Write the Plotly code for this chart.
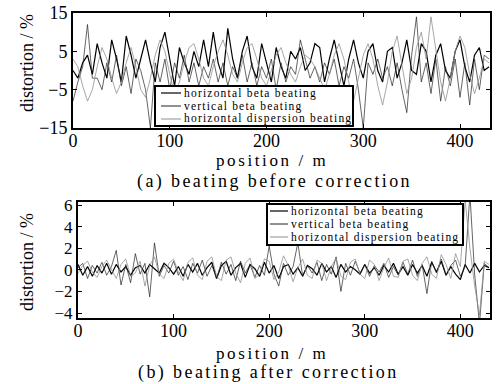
import plotly.graph_objects as go

W, H = 497, 384

# ---------------- data ----------------
position = list(range(0, 435, 5))  # m

# (a) before correction, distortion in %
hbeta_before = [0, -2, 2, 4, -1, 7, 2, -2, 8, 3, -3, 9, 4, -2, 3, 8, 2, -3, 6, 10,
                3, -4, 6, 2, -1, 5, 1, 8, 1, 10, 2, -2, 11, 3, -2, 5, 9, 1, -2, 7,
                2, -3, 6, 1, -2, 5, 3, 6, 0, 2, 7, 6, -3, 3, 8, 2, -4, 3, 8, 2,
                -2, 5, 7, 0, -3, 5, 6, -2, 2, 8, 0, -1, 7, 5, -3, 4, 7, 0, -2, 5,
                8, 1, -3, 4, 6, 0, 1]
vbeta_before = [-8, -3, 1, 12, -2, -2, -5, 2, -3, 4, -4, 1, -6, 3, 0, -5, -15, 2, -3, 3,
                -5, 2, -2, 4, -3, 2, -4, 1, -2, 3, -3, 2, -4, 1, -2, 4, -3, 2, -4, 1,
                -2, 3, -5, 2, -3, 1, -1, 8, 3, -2, 1, -3, 2, -1, 3, -4, 1, -2, 3, -5,
                -15, 2, -1, 3, -2, 1, -4, 2, -5, -11, 4, 14, -3, 2, -6, 3, -8, 1, -4, 3,
                -7, 2, -9, 3, -5, 4, 3]
hdisp_before = [3, 1, -4, -8, -5, 1, 6, 3, -2, -6, -3, 2, 6, 1, -5, -7, -2, 4, 8, 5,
                -1, -6, -3, 2, 6, 7, 3, -2, -4, 1, 5, 8, 4, -1, -3, 2, 6, 7, 3, -2,
                -4, 0, 4, 6, 2, -1, -3, 1, 4, 3, 1, -2, -5, -1, 4, 7, 3, -3, -8, -2,
                4, 7, 3, -4, -9, -3, 5, 9, 2, -6, -2, 6, 10, 3, 14, 5, -3, -8, -2, 5,
                9, 6, -1, -6, -2, 3, 2]

# (b) after correction, distortion in %
hbeta_after = [0.5, -0.5, 0.3, -0.6, 0.4, -0.3, 0.6, -0.4, 0.5, -0.2, 0.3, -0.5, 0.2, 0.4, -0.3, 0.5, 0.1, -0.3, 0.6, 0.2,
               -0.4, 0.3, -0.6, 0.5, -0.2, 0.6, -0.5, 0.2, 0.7, -0.8, 0.4, 0.8, -0.5, 0.2, 0.6, -0.7, 0.5, 0.1, -0.6, 0.7,
               -0.3, 0.4, -0.8, 0.3, 0.5, -0.4, 0.2, -0.6, 0.4, 0.1, -0.5, 0.6, -0.2, 0.3, -0.7, 0.5, -0.2, 0.3, 0.0, -0.4,
               0.5, -0.3, 0.2, -0.5, 0.4, -0.2, 0.6, -0.4, 0.3, -0.5, 0.5, -0.3, 0.4, -0.6, 0.7, -0.2, 0.8, -0.5, 0.3, -0.4,
               -0.9, 0.5, -0.3, 0.6, -0.2, 0.4, 0.2]
vbeta_after = [0.2, 0.6, -0.8, 0.4, -0.3, 0.7, -0.5, 0.3, 1.8, -1.4, 0.5, -1.2, 1.5, -0.4, 0.6, -2.5, 2.5, -0.6, 0.4, -0.3,
               0.8, -0.5, 0.3, -0.9, 0.6, -0.3, 0.9, -0.6, 0.4, -0.8, 0.7, -0.4, 0.5, -1.0, 0.8, -0.3, 0.5, -0.7, 0.4, -0.5,
               2.2, -0.4, -1.5, 0.6, -0.5, 0.3, 2.5, -0.6, 0.4, -0.3, 0.7, -1.0, 0.5, -0.4, 1.2, -2.0, 0.6, -0.5, 0.8, -0.3,
               0.5, -0.6, 0.4, -0.2, 0.6, -0.7, 0.3, -0.5, 0.7, -0.4, 0.9, -0.6, 0.5, -2.2, 0.8, -0.3, 1.0, -0.5, 0.4, 0.9,
               -0.6, 0.3, 7.0, -0.5, -5.0, 0.6, 0.2]
hdisp_after = [-0.3, 0.4, 0.8, -0.2, -0.7, 0.3, 0.9, 0.1, -0.8, 0.5, 1.0, -0.6, -0.3, 0.8, -1.5, 0.4, 1.2, -0.4, -0.8, 0.6,
               1.0, -0.2, -1.0, 0.7, 1.1, -0.5, -0.9, 0.8, 1.2, -0.6, -1.0, 0.9, 1.2, -0.3, -1.2, 0.6, 1.1, -0.8, -0.4, 1.0,
               0.8, -0.9, -0.2, 1.3, 0.4, -1.1, 0.2, 1.0, -0.5, -0.8, 0.9, 0.6, -1.0, 0.3, 1.1, -0.6, -0.9, 0.7, 1.0, -0.4,
               -0.8, 0.9, 0.5, -1.0, 0.2, 1.1, -0.6, -0.7, 0.8, 1.0, -0.5, -1.0, 0.6, 1.2, -0.4, -0.8, 1.4, 0.5, -0.8, 1.5,
               0.3, 6.5, 2.0, -1.5, -4.2, 0.8, 0.5]

series_names = ["horizontal beta beating", "vertical beta beating", "horizontal dispersion beating"]
yticks_a = [-15, -5, 5, 15]
yticks_b = [-4, -2, 0, 2, 4, 6]
xticks = [0, 100, 200, 300, 400]

# ---------------- styles ----------------
FONT = "Liberation Serif"
styles = [dict(color="black", width=1.2),
          dict(color="#222222", width=0.7),
          dict(color="#909090", width=0.8)]

def px(x):
    return x / W

def py(y):
    return 1 - y / H

fig = go.Figure()
for vals, st, nm in zip([hbeta_before, vbeta_before, hdisp_before], styles, series_names):
    fig.add_trace(go.Scatter(x=position, y=vals, mode="lines", line=st, name=nm,
                             xaxis="x", yaxis="y", showlegend=False))
for vals, st, nm in zip([hbeta_after, vbeta_after, hdisp_after], styles, series_names):
    fig.add_trace(go.Scatter(x=position, y=vals, mode="lines", line=st, name=nm,
                             xaxis="x2", yaxis="y2", showlegend=False))

axis_common = dict(showline=True, linewidth=2, linecolor="black", mirror="ticks",
                   ticks="inside", ticklen=4, tickcolor="black", showgrid=False,
                   zeroline=False, automargin=False,
                   tickfont=dict(family=FONT, size=18, color="black"))

fig.update_layout(
    width=W, height=H, margin=dict(l=0, r=0, t=0, b=0, autoexpand=False),
    paper_bgcolor="white", plot_bgcolor="white",
    xaxis=dict(domain=[px(73), px(490)], range=[0, 431], tickvals=xticks,
               anchor="y", ticklabelstandoff=-5, **axis_common),
    yaxis=dict(domain=[py(128), py(13)], range=[-15, 15], tickvals=yticks_a,
               anchor="x", **axis_common),
    xaxis2=dict(domain=[px(78), px(490)], range=[0, 431], tickvals=xticks,
                anchor="y2", ticklabelstandoff=-5, **axis_common),
    yaxis2=dict(domain=[py(318), py(202)], range=[-4.46, 6.28], tickvals=yticks_b,
                anchor="x2", **{**axis_common, "tickfont": dict(family=FONT, size=17, color="black")}),
)

shapes = []
annotations = []

def spaced(t, sp):
    return '<span style="letter-spacing:%.2fpx">%s</span>' % (sp, t)

def add_legend(x0, y0, x1, y1, line_x0, line_x1, text_x, rows):
    shapes.append(dict(type="rect", xref="paper", yref="paper",
                       x0=px(x0), x1=px(x1), y0=py(y1), y1=py(y0),
                       line=dict(color="black", width=2), fillcolor="white", layer="above"))
    for (ry, st, nm) in rows:
        shapes.append(dict(type="line", xref="paper", yref="paper",
                           x0=px(line_x0), x1=px(line_x1), y0=py(ry), y1=py(ry),
                           line=dict(color=st["color"], width=max(st["width"], 1.0)), layer="above"))
        annotations.append(dict(text=spaced(nm, 1.2), xref="paper", yref="paper", x=px(text_x), y=py(ry),
                                xanchor="left", yanchor="middle", showarrow=False,
                                borderpad=0,
                                font=dict(family=FONT, size=11.5, color="black")))

add_legend(155, 86, 353, 126, 161, 181, 183,
           [(93, styles[0], series_names[0]), (106, styles[1], series_names[1]),
            (119, styles[2], series_names[2])])
add_legend(267, 204, 463, 245, 270, 288, 290,
           [(211, styles[0], series_names[0]), (224, styles[1], series_names[1]),
            (237, styles[2], series_names[2])])

def text(t, x, y, size=17, angle=0, sp=0.0):
    annotations.append(dict(text=spaced(t, sp) if sp else t, xref="paper", yref="paper", x=px(x), y=py(y),
                            xanchor="center", yanchor="middle", showarrow=False, textangle=angle,
                            font=dict(family=FONT, size=size, color="black")))

text("distortion / %", 27, 63, 18, -90)
text("position / m", 272, 161, 17, sp=2.6)
text("(a) beating before correction", 274, 182, 18, sp=2.4)
text("distortion / %", 27, 262, 18, -90)
text("position / m", 272, 353, 17, sp=2.6)
text("(b) beating after correction", 268, 372, 18, sp=2.4)

fig.update_layout(shapes=shapes, annotations=annotations)
fig.write_html("out.html", config={"displayModeBar": False},
               post_script="document.body.style.margin='0';document.body.style.overflow='hidden';")
